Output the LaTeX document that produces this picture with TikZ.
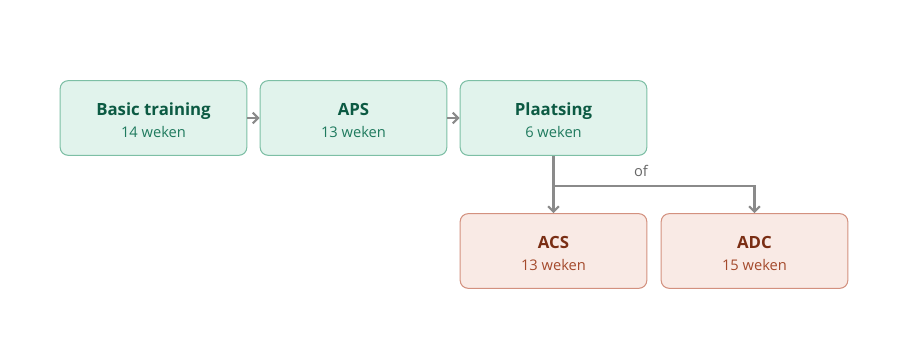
\documentclass[tikz,border=0pt]{standalone}
\usepackage{fontspec}
\setmainfont{Open Sans}
\usetikzlibrary{positioning, arrows.meta}

\definecolor{greenfill}{HTML}{E1F3EC}
\definecolor{greenline}{HTML}{7DBFA5}
\definecolor{greentitle}{HTML}{0C5A43}
\definecolor{greensub}{HTML}{1F7A5E}
\definecolor{redfill}{HTML}{F9EAE5}
\definecolor{redline}{HTML}{D3917F}
\definecolor{redtitle}{HTML}{7A2E14}
\definecolor{redsub}{HTML}{A44A2C}
\definecolor{arrowgray}{HTML}{8A8A8A}

\newcommand{\boxtext}[3]{\rule{0pt}{13pt}\fontsize{12.6}{15}\selectfont\bfseries\color{#1title}#2\\[5pt]
                         \fontsize{11}{13}\selectfont\color{#1sub}#3}

\begin{document}
\begin{tikzpicture}[
    x=0.75pt, y=-0.75pt,
    phase/.style     = {rectangle, draw=greenline, fill=greenfill, line width=0.8pt,
                        rounded corners=6pt, minimum width=140pt, minimum height=56pt,
                        align=center, inner sep=0pt},
    course/.style    = {phase, draw=redline, fill=redfill},
    conn/.style      = {line width=1.6pt, draw=arrowgray,
                        -{Straight Barb[length=4pt, width=8pt]}},
    lbl/.style       = {font=\fontsize{11}{13}\selectfont, text=black!60},
]

\useasboundingbox (0,0) rectangle (908,348);

%% ============================================================
%% BOXES
%% ============================================================

\node[phase]  (basic)  at (153.5, 118) {\boxtext{green}{Basic training}{14 weken}};
\node[phase]  (aps)    at (353.5, 118) {\boxtext{green}{APS}{13 weken}};
\node[phase]  (plaats) at (553.5, 118) {\boxtext{green}{Plaatsing}{6 weken}};

\node[course] (acs)    at (553.5, 251) {\boxtext{red}{ACS}{13 weken}};
\node[course] (adc)    at (754.5, 251) {\boxtext{red}{ADC}{15 weken}};

%% ============================================================
%% CONNECTIONS
%% ============================================================

\draw[conn] (basic.east) -- (aps.west);
\draw[conn] (aps.east)   -- (plaats.west);

%% choice after placement
\coordinate (split) at (553.5, 186);
\draw[conn] (plaats.south) -- (split) -- (acs.north);
\draw[conn] (split) -| (adc.north);

\node[lbl] (of) at (641, 171) {of};

\end{tikzpicture}
\end{document}
